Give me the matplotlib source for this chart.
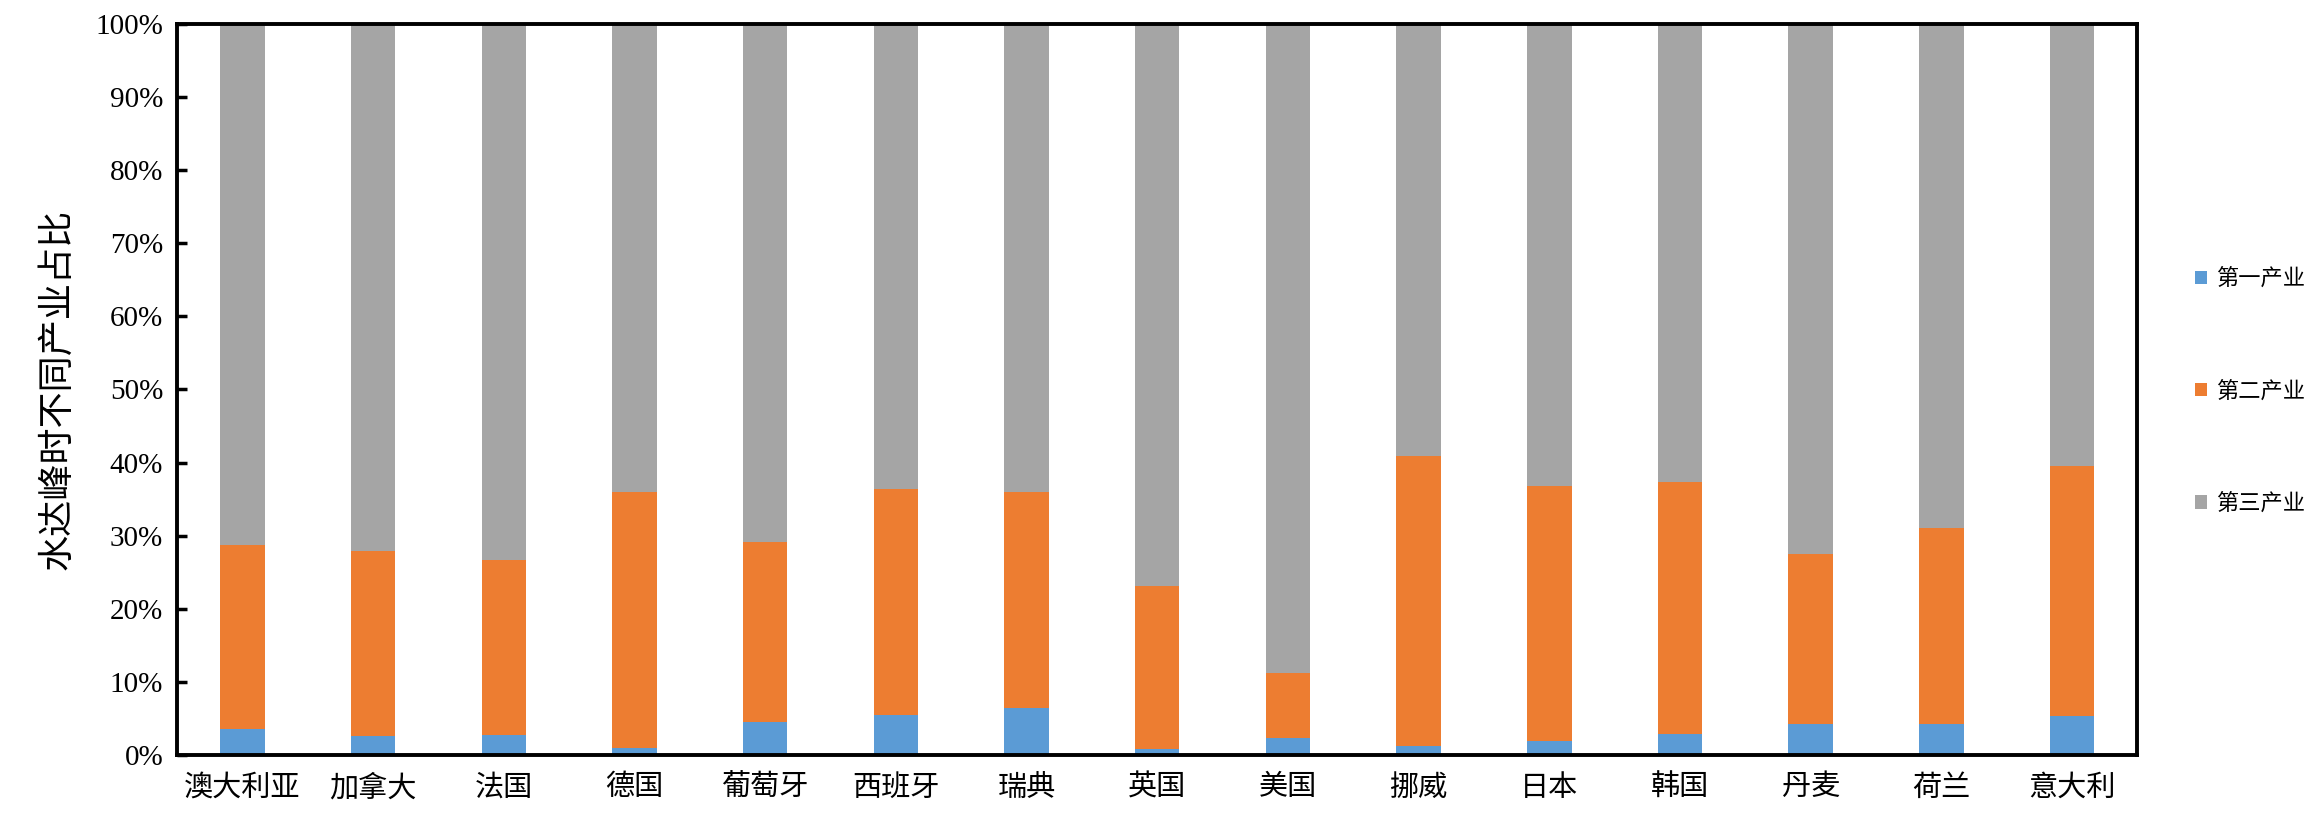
import numpy as np
import matplotlib.pyplot as plt
from matplotlib.ticker import FuncFormatter

plt.rcParams['font.family'] = ['Liberation Serif', 'Noto Sans CJK SC', 'DejaVu Sans']

countries = ['澳大利亚', '加拿大', '法国', '德国', '葡萄牙', '西班牙', '瑞典', '英国',
             '美国', '挪威', '日本', '韩国', '丹麦', '荷兰', '意大利']
# 各产业占比 (%)
primary = [3.6, 2.6, 2.8, 1.0, 4.5, 5.5, 6.4, 0.8, 2.4, 1.2, 2.0, 2.9, 4.3, 4.3, 5.4]
secondary = [25.2, 25.3, 23.9, 35.0, 24.7, 30.9, 29.6, 22.3, 8.8, 39.7, 34.8, 34.4, 23.2, 26.7, 34.1]
tertiary = [71.2, 72.1, 73.3, 64.0, 70.8, 63.6, 64.0, 76.9, 88.8, 59.1, 63.2, 62.7, 72.5, 69.0, 60.5]
series_names = ['第一产业', '第二产业', '第三产业']
colors = ['#5B9BD5', '#ED7D31', '#A5A5A5']

fig = plt.figure(figsize=(23.2, 8.13), dpi=100)
ax = fig.add_axes([0.0763, 0.071, 0.845, 0.900])

x = np.arange(len(countries))
w = 0.34
bottom = np.zeros(len(countries))
for vals, name, c in zip([primary, secondary, tertiary], series_names, colors):
    ax.bar(x, vals, w, bottom=bottom, color=c, label=name)
    bottom += np.array(vals)

ax.set_xlim(-0.5, len(countries) - 0.5)
ax.set_ylim(0, 100)
ax.set_yticks(np.arange(0, 101, 10))
ax.yaxis.set_major_formatter(FuncFormatter(lambda v, p: '%d%%' % v))
ax.set_xticks(x)
ax.set_xticklabels(countries, fontsize=21)
ax.tick_params(axis='y', direction='in', length=7, width=2.5, labelsize=21, pad=10)
ax.tick_params(axis='x', length=0, pad=14)
for s in ax.spines.values():
    s.set_linewidth(2.8)
ax.set_ylabel('水达峰时不同产业占比', fontsize=26, labelpad=14)

# 图例放在右侧外部
fig.legend(loc='center left', bbox_to_anchor=(0.946, 0.518), frameon=False,
           fontsize=16, handlelength=0.55, handleheight=0.55, handletextpad=0.4,
           labelspacing=4.1, borderpad=0, borderaxespad=0)

fig.savefig('out.png', dpi=100)
